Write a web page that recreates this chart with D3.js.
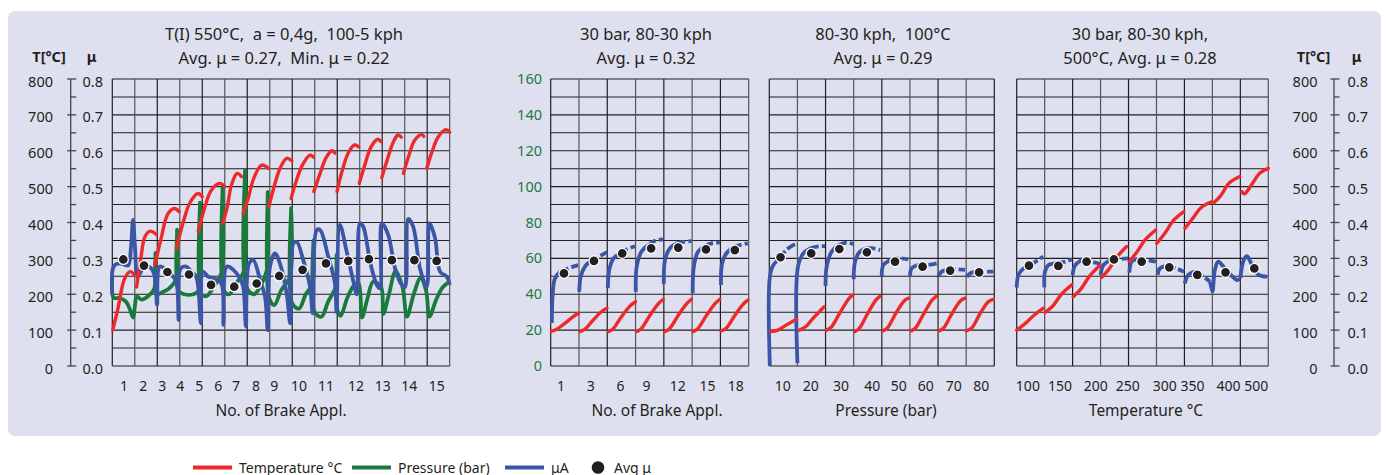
<!DOCTYPE html>
<html>
<head>
<meta charset="utf-8">
<script src="https://cdn.jsdelivr.net/npm/d3@7"></script>
<style>
body{margin:0;background:#fff;}
svg text{font-family:'Noto Sans',sans-serif;fill:#231f20;}
</style>
</head>
<body>
<svg id="chart" width="1386" height="475"></svg>
<script>
// ---- data ----
// panel 1: x is measured in grid columns (0..15)
var p1TickLabels=['1','2','3','4','5','6','7','8','9','10','11','12','13','14','15'];
var p1TickPos=[0.52,1.38,2.22,3.02,3.87,4.71,5.5,6.39,7.2,8.3,9.5,10.83,12.02,13.2,14.42];
var p1Temp=[
  [[0.02,100],[0.25,160],[0.55,244],[0.8,263],[1.0,252]],
  [[1.08,220],[1.25,290],[1.45,360],[1.68,376],[1.97,366]],
  [[1.9,282],[2.15,350],[2.48,425],[2.77,439],[2.97,430]],
  [[2.85,328],[3.15,400],[3.45,455],[3.81,481],[4.0,472]],
  [[3.82,375],[4.1,440],[4.4,490],[4.78,509],[5.0,500]],
  [[4.91,398],[5.1,440],[5.3,505],[5.55,537],[5.75,528]],
  [[5.82,425],[6.05,470],[6.3,525],[6.64,560],[6.94,551]],
  [[6.96,444],[7.15,490],[7.45,550],[7.75,579],[7.98,572]],
  [[7.95,467],[8.15,510],[8.45,560],[8.79,588],[8.94,582]],
  [[8.96,486],[9.2,530],[9.5,580],[9.76,600],[9.9,593]],
  [[9.99,486],[10.2,540],[10.5,595],[10.77,616],[10.95,611]],
  [[10.98,509],[11.2,555],[11.5,610],[11.8,632],[11.95,625]],
  [[11.98,525],[12.2,570],[12.5,625],[12.7,644],[12.85,638]],
  [[12.94,537],[13.15,580],[13.45,630],[13.76,645],[13.85,640]],
  [[13.98,551],[14.2,595],[14.5,640],[14.84,659],[15.0,652]]
];
var p1Press=[[0.0,50],[0.06,38],[0.3,38],[0.6,36],[0.8,31],[0.92,27],[1.02,35],[1.08,39],[1.3,37],[1.6,39],[1.86,43],
  [1.92,63],[1.97,40],[2.2,41],[2.5,43],[2.82,48],[2.88,76],[2.94,42],[3.2,40],[3.6,40],[3.84,42],[3.9,91],[3.96,40],
  [4.2,39],[4.5,44],[4.85,52],[4.9,99],[4.96,42],[5.2,40],[5.5,46],[5.85,53],[5.9,109],[5.96,44],[6.3,40],[6.6,45],
  [6.86,53],[6.91,97],[6.97,38],[7.2,34],[7.5,42],[7.9,50],[7.95,88],[8.0,35],[8.3,32],[8.6,40],[8.9,46],[8.94,70],
  [9.0,30],[9.3,27.5],[9.6,36],[9.93,44],[9.97,62],[10.03,30],[10.15,28],[10.45,38],[10.75,45],[10.95,46],[11.1,27],
  [11.35,38],[11.6,47],[11.95,44],[12.05,29],[12.3,40],[12.6,53],[12.9,44],[13.1,27.5],[13.4,40],[13.7,49],[13.95,42],
  [14.1,27.5],[14.4,37],[14.7,44],[15.0,47]];
var p1Mu=[[0.0,0.2],[0.02,0.27],[0.16,0.284],[0.43,0.285],[0.7,0.28],[0.83,0.33],[0.92,0.407],[1.01,0.33],[1.12,0.25],
  [1.25,0.26],[1.44,0.28],[1.73,0.272],[1.89,0.249],[1.99,0.17],[2.11,0.277],[2.4,0.268],[2.7,0.249],[2.85,0.235],
  [2.95,0.128],[3.04,0.272],[3.29,0.277],[3.51,0.263],[3.73,0.249],[3.94,0.119],[4.03,0.263],[4.26,0.249],[4.55,0.244],
  [4.85,0.23],[4.94,0.115],[5.09,0.277],[5.38,0.268],[5.68,0.244],[5.82,0.221],[5.94,0.11],[6.08,0.286],[6.27,0.295],
  [6.57,0.24],[6.79,0.193],[6.91,0.1],[7.01,0.277],[7.23,0.314],[7.45,0.286],[7.75,0.203],[7.91,0.119],[8.05,0.342],
  [8.2,0.346],[8.49,0.295],[8.79,0.221],[8.91,0.147],[9.09,0.379],[9.24,0.379],[9.6,0.305],[9.9,0.23],[9.97,0.15],
  [10.12,0.393],[10.42,0.319],[10.72,0.235],[10.87,0.2],[11.01,0.398],[11.16,0.388],[11.46,0.291],[11.76,0.226],
  [11.9,0.217],[11.98,0.398],[12.27,0.365],[12.57,0.272],[12.87,0.226],[13.01,0.22],[13.16,0.41],[13.38,0.388],
  [13.68,0.272],[13.98,0.221],[14.1,0.398],[14.35,0.356],[14.57,0.263],[14.87,0.249],[15.0,0.226]];
var p1AvgX=[0.49,1.41,2.45,3.41,4.39,5.42,6.42,7.42,8.46,9.5,10.49,11.41,12.43,13.43,14.42];
var p1AvgMu=[0.297,0.28,0.262,0.255,0.226,0.221,0.23,0.251,0.268,0.286,0.293,0.298,0.295,0.295,0.293];

// panel 2: 30 bar, 80-30 kph
var p2TickLabels=['1','3','6','9','12','15','18'];
var p2TickPos=[0.36,1.42,2.47,3.39,4.49,5.54,6.54];
var p2Temp=[
  [[0.03,97],[0.2,102],[0.5,119],[0.8,138],[0.98,147]],
  [[1.03,96],[1.2,102],[1.5,128],[1.8,152],[1.99,161]],
  [[2.04,96],[2.2,103],[2.5,137],[2.8,167],[3.0,179]],
  [[3.03,96],[3.2,104],[3.5,140],[3.8,173],[3.98,186]],
  [[4.03,96],[4.2,104],[4.5,140],[4.8,173],[4.98,186]],
  [[5.03,96],[5.2,104],[5.5,140],[5.8,173],[5.98,186]],
  [[6.03,98],[6.2,105],[6.5,140],[6.8,172],[6.98,184]]
];
var p2MuRise=[
  [[0.04,0.12],[0.07,0.2],[0.15,0.244],[0.33,0.263]],
  [[1.01,0.207],[1.06,0.249],[1.21,0.277],[1.39,0.291]],
  [[2.02,0.217],[2.07,0.268],[2.22,0.3],[2.45,0.314]],
  [[3.01,0.207],[3.04,0.277],[3.21,0.319],[3.45,0.337]],
  [[4.0,0.229],[4.04,0.295],[4.21,0.328],[4.45,0.342]],
  [[5.02,0.203],[5.06,0.277],[5.21,0.319],[5.45,0.334]],
  [[6.02,0.226],[6.06,0.286],[6.21,0.314],[6.45,0.331]]
];
var p2MuFlat=[
  [[0.33,0.263],[0.57,0.27],[0.8,0.277],[0.97,0.281]],
  [[1.39,0.291],[1.56,0.297],[1.8,0.309],[1.99,0.317]],
  [[2.45,0.314],[2.68,0.325],[2.98,0.334]],
  [[3.45,0.337],[3.68,0.349],[3.97,0.353]],
  [[4.45,0.342],[4.69,0.346],[4.98,0.348]],
  [[5.45,0.334],[5.68,0.342],[5.98,0.344]],
  [[6.45,0.331],[6.68,0.337],[6.97,0.342]]
];
var p2AvgX=[0.47,1.53,2.53,3.55,4.51,5.49,6.51];
var p2AvgMu=[0.258,0.293,0.314,0.328,0.33,0.325,0.323];
var p2PressLabels=[0,20,40,60,80,100,120,140,160];

// panel 3: 80-30 kph, 100°C
var p3TickLabels=['10','20','30','40','50','60','70','80'];
var p3TickPos=[0.48,1.47,2.55,3.66,4.6,5.56,6.56,7.54];
var p3Temp=[
  [[0.05,96],[0.3,100],[0.6,114],[0.97,130]],
  [[1.07,100],[1.3,110],[1.5,128],[1.95,165]],
  [[2.03,100],[2.2,108],[2.5,147],[2.85,190],[2.98,198]],
  [[3.05,96],[3.2,105],[3.5,147],[3.8,185],[3.94,195]],
  [[4.04,98],[4.2,106],[4.5,147],[4.8,182],[4.94,189]],
  [[5.04,98],[5.2,106],[5.5,147],[5.8,185],[5.95,195]],
  [[6.04,98],[6.2,106],[6.5,147],[6.8,182],[6.96,189]],
  [[7.0,98],[7.2,106],[7.5,147],[7.8,180],[7.97,186]]
];
var p3MuRise=[
  [[0.02,0.0],[0.02,0.249],[0.14,0.281],[0.38,0.3]],
  [[1.0,0.008],[1.02,0.277],[1.21,0.314],[1.45,0.328]],
  [[2.0,0.223],[2.04,0.277],[2.22,0.319],[2.45,0.337]],
  [[3.0,0.242],[3.05,0.291],[3.22,0.319],[3.46,0.328]],
  [[4.0,0.249],[4.05,0.281],[4.29,0.295]],
  [[5.0,0.251],[5.06,0.272],[5.24,0.281]],
  [[6.01,0.251],[6.13,0.263],[6.31,0.268]],
  [[7.02,0.249],[7.14,0.258],[7.32,0.263]]
];
var p3MuFlat=[
  [[0.38,0.3],[0.62,0.325],[0.97,0.342]],
  [[1.45,0.328],[1.69,0.333],[1.98,0.334]],
  [[2.45,0.337],[2.75,0.344],[2.99,0.34]],
  [[3.46,0.328],[3.7,0.328],[3.94,0.323]],
  [[4.29,0.295],[4.65,0.3],[4.94,0.297]],
  [[5.24,0.281],[5.6,0.281],[5.95,0.286]],
  [[6.31,0.268],[6.6,0.27],[6.96,0.268]],
  [[7.32,0.263],[7.62,0.263],[7.97,0.263]]
];
var p3AvgX=[0.4,1.49,2.49,3.47,4.47,5.45,6.43,7.46];
var p3AvgMu=[0.303,0.314,0.326,0.317,0.291,0.277,0.266,0.261];

// panel 4: 30 bar, 80-30 kph, 500°C
var p4TickLabels=['100','150','200','250','300','350','400','500'];
var p4TickPos=[0.4,1.55,2.83,3.97,5.3,6.29,7.58,8.57];
var p4Temp=[
  [[0.0,100],[0.3,118],[0.6,140],[0.95,161]],
  [[1.01,149],[1.3,168],[1.6,200],[1.97,226]],
  [[2.02,193],[2.3,215],[2.6,250],[2.98,281]],
  [[3.04,247],[3.3,270],[3.6,305],[3.93,333]],
  [[4.03,291],[4.3,318],[4.6,352],[4.97,379]],
  [[5.01,342],[5.3,370],[5.6,405],[5.98,430]],
  [[6.02,384],[6.3,412],[6.6,442],[6.97,458]],
  [[7.05,455],[7.3,475],[7.6,510],[7.98,528]],
  [[8.05,486],[8.15,480],[8.4,505],[8.7,538],[9.0,551]]
];
var p4MuRise=[
  [[0.0,0.219],[0.06,0.254],[0.24,0.272],[0.48,0.281]],
  [[0.99,0.219],[1.01,0.263],[1.13,0.281],[1.43,0.286]],
  [[2.0,0.254],[2.09,0.281],[2.32,0.295]],
  [[3.0,0.254],[3.1,0.281],[3.34,0.295]],
  [[4.03,0.26],[4.11,0.291],[4.3,0.298]],
  [[5.04,0.254],[5.12,0.272],[5.36,0.279]],
  [[6.01,0.23],[6.14,0.254],[6.38,0.263]],
  [[6.92,0.235],[7.0,0.207],[7.09,0.268],[7.21,0.291],[7.45,0.272],[7.87,0.24],[7.99,0.242]],
  [[8.0,0.245],[8.12,0.295],[8.24,0.306],[8.42,0.281],[8.66,0.254],[8.96,0.249]]
];
var p4MuFlat=[
  [[0.48,0.281],[0.72,0.293],[0.95,0.305]],
  [[1.43,0.286],[1.7,0.29],[1.97,0.297]],
  [[2.32,0.295],[2.62,0.291],[2.98,0.285]],
  [[3.34,0.295],[3.65,0.298],[3.99,0.3]],
  [[4.3,0.298],[4.53,0.297],[4.98,0.291]],
  [[5.36,0.279],[5.7,0.272],[5.99,0.263]],
  [[6.38,0.263],[6.68,0.249],[6.92,0.235]]
];
var p4AvgX=[0.44,1.49,2.5,3.48,4.47,5.46,6.46,7.47,8.5];
var p4AvgMu=[0.28,0.279,0.291,0.297,0.291,0.275,0.254,0.261,0.272];

var tempTicks=[0,100,200,300,400,500,600,700,800];
var muTicks=['0.0','0.1','0.2','0.3','0.4','0.5','0.6','0.7','0.8'];

var legendItems=['Temperature °C','Pressure (bar)','μA','Avg μ'];

// ---- drawing ----
var red='#ec2a2c', green='#1a7a3c', blue='#3b56a6', ink='#231f20';
var plotTop=79, plotBottom=366;

var yT=d3.scaleLinear().domain([0,800]).range([plotBottom,plotTop]);
var yMu=d3.scaleLinear().domain([0,0.8]).range([plotBottom,plotTop]);
var yP=d3.scaleLinear().domain([0,160]).range([plotBottom,plotTop]);

var svg=d3.select('#chart');
svg.append('rect')
  .attr('x',8).attr('y',11)
  .attr('width',1373).attr('height',425)
  .attr('rx',7)
  .style('fill','#dfe0ef');

var panels=[
  {left:112.3,right:449.7,cols:15,titleX:284,title:['T(I) 550°C,  a = 0,4g,  100-5 kph','Avg. μ = 0.27,  Min. μ = 0.22'],
   xTitle:'No. of Brake Appl.',xTitleX:281,ticks:p1TickLabels,tickPos:p1TickPos,temp:p1Temp,rise:[p1Mu],flat:[],avgX:p1AvgX,avgMu:p1AvgMu,press:p1Press},
  {left:550.7,right:748.7,cols:7,titleX:646,title:['30 bar, 80-30 kph','Avg. μ = 0.32'],
   xTitle:'No. of Brake Appl.',xTitleX:657,ticks:p2TickLabels,tickPos:p2TickPos,temp:p2Temp,rise:p2MuRise,flat:p2MuFlat,avgX:p2AvgX,avgMu:p2AvgMu},
  {left:769.3,right:994.3,cols:8,titleX:883,title:['80-30 kph,  100°C','Avg. μ = 0.29'],
   xTitle:'Pressure (bar)',xTitleX:886,ticks:p3TickLabels,tickPos:p3TickPos,temp:p3Temp,rise:p3MuRise,flat:p3MuFlat,avgX:p3AvgX,avgMu:p3AvgMu},
  {left:1016.7,right:1268.3,cols:9,titleX:1140,title:['30 bar, 80-30 kph,','500°C, Avg. μ = 0.28'],
   xTitle:'Temperature °C',xTitleX:1146,ticks:p4TickLabels,tickPos:p4TickPos,temp:p4Temp,rise:p4MuRise,flat:p4MuFlat,avgX:p4AvgX,avgMu:p4AvgMu}
];

var curve=d3.curveCatmullRom.alpha(0.5);

panels.forEach(function(p){
  var x=d3.scaleLinear().domain([0,p.cols]).range([p.left,p.right]);
  var g=svg.append('g');

  // grid
  g.selectAll('.hline').data(d3.range(0,801,50)).enter()
    .append('line')
    .attr('x1',p.left).attr('x2',p.right)
    .attr('y1',d=>yT(d)).attr('y2',d=>yT(d))
    .style('stroke',ink).style('stroke-width',1.1);
  g.selectAll('.vline').data(d3.range(0,p.cols+1)).enter()
    .append('line')
    .attr('x1',d=>x(d)).attr('x2',d=>x(d))
    .attr('y1',plotTop).attr('y2',plotBottom)
    .style('stroke',(d,i)=>(i%2==1?'#555':ink)).style('stroke-width',1.2);

  var lineT=d3.line().x(d=>x(d[0])).y(d=>yT(d[1])).curve(curve);
  var lineMu=d3.line().x(d=>x(d[0])).y(d=>yMu(d[1])).curve(curve);
  var lineP=d3.line().x(d=>x(d[0])).y(d=>yP(d[1])).curve(curve);

  if(p.press){
    g.append('path').attr('d',lineP(p.press))
      .style('fill','none').style('stroke',green).style('stroke-width',3.8).style('stroke-linejoin','round');
  }
  g.selectAll('.flat').data(p.flat).enter()
    .append('path').attr('d',d=>lineMu(d))
    .style('fill','none').style('stroke',blue).style('stroke-width',3.8)
    .style('stroke-dasharray','9,3');
  g.selectAll('.rise').data(p.rise).enter()
    .append('path').attr('d',d=>lineMu(d))
    .style('fill','none').style('stroke',blue).style('stroke-width',3.8).style('stroke-linejoin','round');
  g.selectAll('.temp').data(p.temp).enter()
    .append('path').attr('d',d=>lineT(d))
    .style('fill','none').style('stroke',red).style('stroke-width',3.4).style('stroke-linecap','round');
  g.selectAll('.avg').data(p.avgX).enter()
    .append('circle')
    .attr('cx',d=>x(d)).attr('cy',(d,i)=>yMu(p.avgMu[i]))
    .attr('r',5)
    .style('fill',ink).style('stroke','#fff').style('stroke-width',1.3);

  // titles
  g.selectAll('.title').data(p.title).enter()
    .append('text')
    .attr('x',p.titleX).attr('y',(d,i)=>40+i*23.5)
    .attr('text-anchor','middle')
    .style('font-size','16.5px').style('white-space','pre')
    .text(d=>d);

  g.selectAll('.xtick').data(p.ticks).enter()
    .append('text')
    .attr('x',(d,i)=>x(p.tickPos[i])).attr('y',390.5)
    .attr('text-anchor','middle')
    .style('font-size','14px')
    .text(d=>d);
  g.append('text')
    .attr('x',p.xTitleX).attr('y',416)
    .attr('text-anchor','middle')
    .style('font-size','15.5px')
    .text(p.xTitle);
});

// pressure labels on panel 2
svg.selectAll('.plabel').data(p2PressLabels).enter()
  .append('text')
  .attr('x',542).attr('y',d=>yP(d)+5)
  .attr('text-anchor','end')
  .style('font-size','14.5px').style('fill',green)
  .text(d=>d);

// double T / mu axes left and right
function dualAxis(ax,tEnd,muStart){
  var a=svg.append('g');
  a.append('line').attr('x1',ax).attr('x2',ax).attr('y1',plotTop).attr('y2',plotBottom)
    .style('stroke','#444').style('stroke-width',1.3);
  a.selectAll('.tk').data(d3.range(0,801,50)).enter()
    .append('line')
    .attr('x1',d=>(d%100==0?ax-3.5:ax)).attr('x2',ax+5.5)
    .attr('y1',d=>yT(d)).attr('y2',d=>yT(d))
    .style('stroke','#444').style('stroke-width',1.3);
  a.selectAll('.tl').data(tempTicks).enter()
    .append('text')
    .attr('x',tEnd).attr('y',d=>yT(d)+7.5)
    .attr('text-anchor','end')
    .style('font-size','14.5px')
    .text(d=>d);
  a.selectAll('.ml').data(muTicks).enter()
    .append('text')
    .attr('x',muStart).attr('y',(d,i)=>yT(tempTicks[i])+7.5)
    .style('font-size','14.5px')
    .text(d=>d);
  a.append('text').attr('x',tEnd-4).attr('y',62).attr('text-anchor','middle')
    .style('font-size','14.5px').style('font-weight','bold').text('T[°C]');
  a.append('text').attr('x',muStart+9).attr('y',62).attr('text-anchor','middle')
    .style('font-size','14.5px').style('font-weight','bold').text('μ');
}
dualAxis(70.7,53,82.5);
dualAxis(1334,1317.5,1347.5);

// legend
var legendX=[193,352,505,598];
var legend=svg.append('g');
legend.selectAll('.lg').data(legendItems).enter()
  .append('g')
  .each(function(d,i){
    var el=d3.select(this);
    if(i<3){
      el.append('line')
        .attr('x1',legendX[i]).attr('x2',legendX[i]+39)
        .attr('y1',467.5).attr('y2',467.5)
        .style('stroke',[red,green,blue][i]).style('stroke-width',4);
      el.append('text').attr('x',legendX[i]+46).attr('y',472.5)
        .style('font-size','14px').text(d);
    }else{
      el.append('circle').attr('cx',legendX[i]).attr('cy',467.5).attr('r',6.3).style('fill',ink);
      el.append('text').attr('x',legendX[i]+16).attr('y',472.5)
        .style('font-size','14px').text(d);
    }
  });
</script>
</body>
</html>
